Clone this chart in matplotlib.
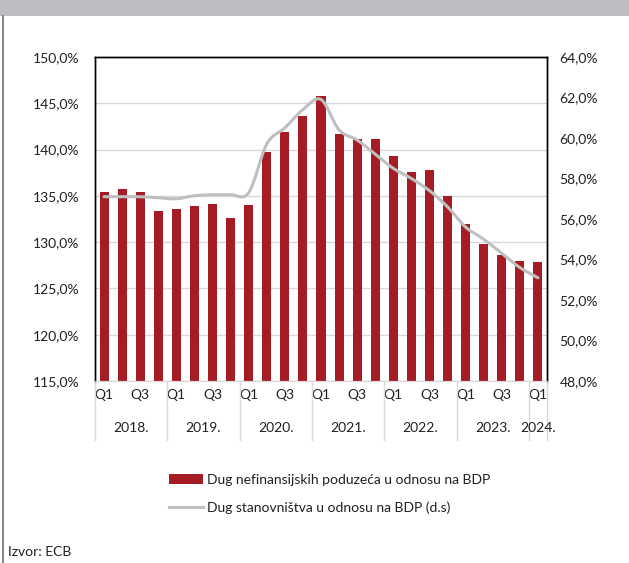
import matplotlib.pyplot as plt
import matplotlib.transforms as mtransforms
from matplotlib.patches import Patch, Rectangle, PathPatch
from matplotlib.path import Path
from matplotlib.lines import Line2D
import numpy as np

plt.rcParams['font.family'] = ['Lato', 'DejaVu Sans']

years = ["2018.", "2019.", "2020.", "2021.", "2022.", "2023.", "2024."]
quarters = ["Q1", "Q2", "Q3", "Q4"] * 6 + ["Q1"]

# Dug nefinansijskih poduzeca (% BDP), lijeva osa
corporate_debt = [135.4, 135.7, 135.4, 133.4, 133.6, 133.9, 134.1, 132.6,
                  134.0, 139.7, 141.9, 143.6, 145.8, 141.7, 141.1, 141.1,
                  139.3, 137.6, 137.8, 135.0, 132.0, 129.8, 128.6, 128.0,
                  127.9]
# Dug stanovnistva (% BDP), desna osa
household_debt = [57.1, 57.1, 57.1, 57.05, 57.0, 57.15, 57.2, 57.2,
                  57.3, 59.7, 60.5, 61.4, 61.9, 60.4, 59.9, 59.2,
                  58.5, 58.0, 57.4, 56.6, 55.6, 55.0, 54.3, 53.6,
                  53.1]

BAR_COLOR = "#A51C24"
LINE_COLOR = "#BFBFBF"
GRID_COLOR = "#D9D9D9"
TEXT_COLOR = "#231F20"


def smooth_path(xs, ys):
    """Catmull-Rom style bezier path through the points (like Excel's smoothed line)."""
    pts = np.column_stack([xs, ys]).astype(float)
    verts = [pts[0]]
    codes = [Path.MOVETO]
    n = len(pts)
    for i in range(n - 1):
        p0 = pts[max(i - 1, 0)]
        p1 = pts[i]
        p2 = pts[i + 1]
        p3 = pts[min(i + 2, n - 1)]
        verts += [p1 + (p2 - p0) / 6, p2 - (p3 - p1) / 6, p2]
        codes += [Path.CURVE4] * 3
    return Path(verts, codes)


x = np.arange(len(corporate_debt))

fig = plt.figure(figsize=(6.29, 5.63), dpi=100)

# header band and left frame line
fig.patches.append(Rectangle((0, 1 - 16 / 563), 1, 16 / 563, transform=fig.transFigure,
                             facecolor="#BDBEC2", edgecolor="none", zorder=0))
fig.add_artist(Line2D([3 / 629, 3 / 629], [0, 1 - 16 / 563], transform=fig.transFigure,
                      color="#6D6E71", lw=1.2))

ax = fig.add_axes([95 / 629, 1 - 381 / 563, 452 / 629, 324 / 563])
ax.bar(x, corporate_debt, width=0.5, color=BAR_COLOR, zorder=2)
ax.set_ylim(115, 150)
ax.set_xlim(-0.5, len(x) - 0.5)
ax.set_yticks(np.arange(115, 151, 5))
ax.set_yticklabels([f"{v:.1f}%".replace(".", ",") for v in np.arange(115, 151, 5)])
ax.yaxis.grid(True, color=GRID_COLOR, lw=1, zorder=0)
ax.set_axisbelow(True)

ax2 = ax.twinx()
ax2.add_patch(PathPatch(smooth_path(x, household_debt), facecolor="none",
                        edgecolor=LINE_COLOR, lw=2.2, capstyle="round",
                        joinstyle="round", zorder=3))
ax2.set_ylim(48, 64)
ax2.set_yticks(np.arange(48, 65, 2))
ax2.set_yticklabels([f"{v:.1f}%".replace(".", ",") for v in np.arange(48, 65, 2)])

for a in (ax, ax2):
    a.tick_params(axis="y", length=0, labelsize=10, labelcolor=TEXT_COLOR)
    for side in ("left", "right", "top"):
        a.spines[side].set_color("black")
        a.spines[side].set_linewidth(1)
    a.spines["bottom"].set_color(GRID_COLOR)
ax.tick_params(axis="y", pad=11)
ax2.tick_params(axis="y", pad=9)

# quarter labels (only Q1 and Q3)
ax.set_xticks(x)
ax.set_xticklabels([q if q in ("Q1", "Q3") else "" for q in quarters])
ax.tick_params(axis="x", length=0, labelsize=10, labelcolor=TEXT_COLOR, pad=6)

# year labels and separators
trans = mtransforms.blended_transform_factory(ax.transData, ax.transAxes)
for i, yr in enumerate(years):
    start = i * 4
    end = min(start + 4, len(x))
    ax.text((start + end - 1) / 2, -0.145, yr, transform=trans, ha="center", va="center",
            fontsize=10, color=TEXT_COLOR)
for b in list(range(0, len(x), 4)) + [len(x)]:
    ax.plot([b - 0.5, b - 0.5], [0, -0.182], transform=trans, color=GRID_COLOR,
            lw=1, clip_on=False)

handles = [Patch(facecolor=BAR_COLOR, edgecolor="none"),
           Line2D([0], [0], color=LINE_COLOR, lw=2.2)]
labels = ["Dug nefinansijskih poduzeća u odnosu na BDP",
          "Dug stanovništva u odnosu na BDP (d.s)"]
fig.legend(handles, labels, loc="upper left", bbox_to_anchor=(156 / 629, 1 - 461 / 563),
           frameon=False, fontsize=10, handlelength=2.45, handleheight=0.7,
           handletextpad=0.3, labelspacing=1.15, labelcolor=TEXT_COLOR)

fig.text(8 / 629, 1 - 556 / 563, "Izvor: ECB", fontsize=10, color=TEXT_COLOR,
         ha="left", va="baseline")

fig.savefig("out.png", dpi=100)
